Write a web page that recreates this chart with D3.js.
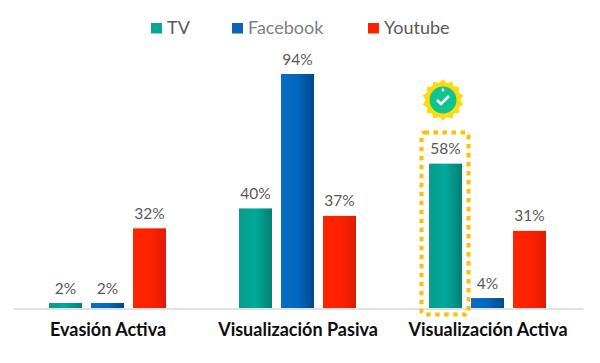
<!DOCTYPE html>
<html><head><meta charset="utf-8">
<script src="https://cdn.jsdelivr.net/npm/d3@7"></script>
<style>html,body{margin:0;background:#fff}svg{display:block}</style></head>
<body><svg id="c" width="600" height="363"></svg>
<script>
const categories = ["Evasión Activa", "Visualización Pasiva", "Visualización Activa"];
const seriesNames = ["TV", "Facebook", "Youtube"];
const tvValues = [2, 40, 58];
const facebookValues = [2, 94, 4];
const youtubeValues = [32, 37, 31];
const allValues = [tvValues, facebookValues, youtubeValues];
const gradients = [
  ["#0a9c8c", "#00a99a", "#067f72"],
  ["#0a6cc4", "#0068bd", "#01488c"],
  ["#ff2400", "#ff2200", "#e01c00"]
];
const legendSwatch = ["#0aa594", "#0b63bb", "#ff1f00"];
const legendText = ["#595959", "#808080", "#595959"];
const legendX = [151, 232, 368];

const svg = d3.select("#c");
const x0 = d3.scaleBand().domain(categories).range([13, 583]);
const x1 = d3.scaleBand().domain(seriesNames).range([36, 153]).paddingInner(9 / 42).paddingOuter(0);
const y = d3.scaleLinear().domain([0, 94]).range([308, 74]);

const defs = svg.append("defs");
gradients.forEach((g, i) => {
  const lg = defs.append("linearGradient").attr("id", "g" + i);
  [0, 0.5, 1].forEach((o, k) => lg.append("stop").attr("offset", o).attr("stop-color", g[k]));
});

const font = "Lato, 'Open Sans', sans-serif";

seriesNames.forEach((s, i) => {
  const gx = legendX[i];
  svg.append("rect").attr("x", gx).attr("y", 23).attr("width", 11).attr("height", 10.5).attr("fill", legendSwatch[i]);
  svg.append("text").attr("x", gx + 16).attr("y", 34).attr("font-family", font)
    .attr("font-size", 18).attr("fill", legendText[i]).text(s);
});

const axis = d3.axisBottom(x0).tickSize(0).tickPadding(15);
const ax = svg.append("g").attr("transform", "translate(0,308.5)").call(axis);
ax.select(".domain").attr("stroke", "#d9d9d9").attr("stroke-width", 1.5);
ax.selectAll("text").attr("font-family", font).attr("font-weight", 700).attr("font-size", 18).attr("fill", "#0d0d0d");

categories.forEach((c, ci) => {
  const g = svg.append("g").attr("transform", `translate(${x0(c)},0)`);
  seriesNames.forEach((s, si) => {
    const v = allValues[si][ci];
    g.append("rect").attr("x", x1(s)).attr("y", y(v)).attr("width", x1.bandwidth())
      .attr("height", y(0) - y(v)).attr("fill", `url(#g${si})`);
    g.append("text").attr("x", x1(s) + x1.bandwidth() / 2).attr("y", y(v) - 9.5)
      .attr("text-anchor", "middle").attr("font-family", font).attr("font-size", 15.5)
      .attr("fill", "#595959").text(v + "%");
  });
});

// highlight frame
svg.append("rect").attr("x", 421.5).attr("y", 132.5).attr("width", 47).attr("height", 182).attr("rx", 3)
  .attr("fill", "none").attr("stroke", "#ffc000").attr("stroke-width", 4).attr("stroke-dasharray", "4.5 4.5");

// badge
const badge = svg.append("g").attr("transform", "translate(443,100)");
const n = 14;
const pts = d3.range(n * 2).map(i => {
  const a = i * Math.PI / n, r = i % 2 ? 17.5 : 20.5;
  return [a, r];
});
badge.append("path").attr("d", d3.lineRadial().curve(d3.curveCardinalClosed)(pts)).attr("fill", "#ffdb0a");
badge.append("circle").attr("r", 13.5).attr("fill", "#10c490");
badge.append("path").attr("d", "M-6,0 L-2,4 L6,-4").attr("fill", "none").attr("stroke", "#fff").attr("stroke-width", 2.6);
badge.append("circle").attr("cy", -10).attr("r", 1.4).attr("fill", "#fff");
</script></body></html>
